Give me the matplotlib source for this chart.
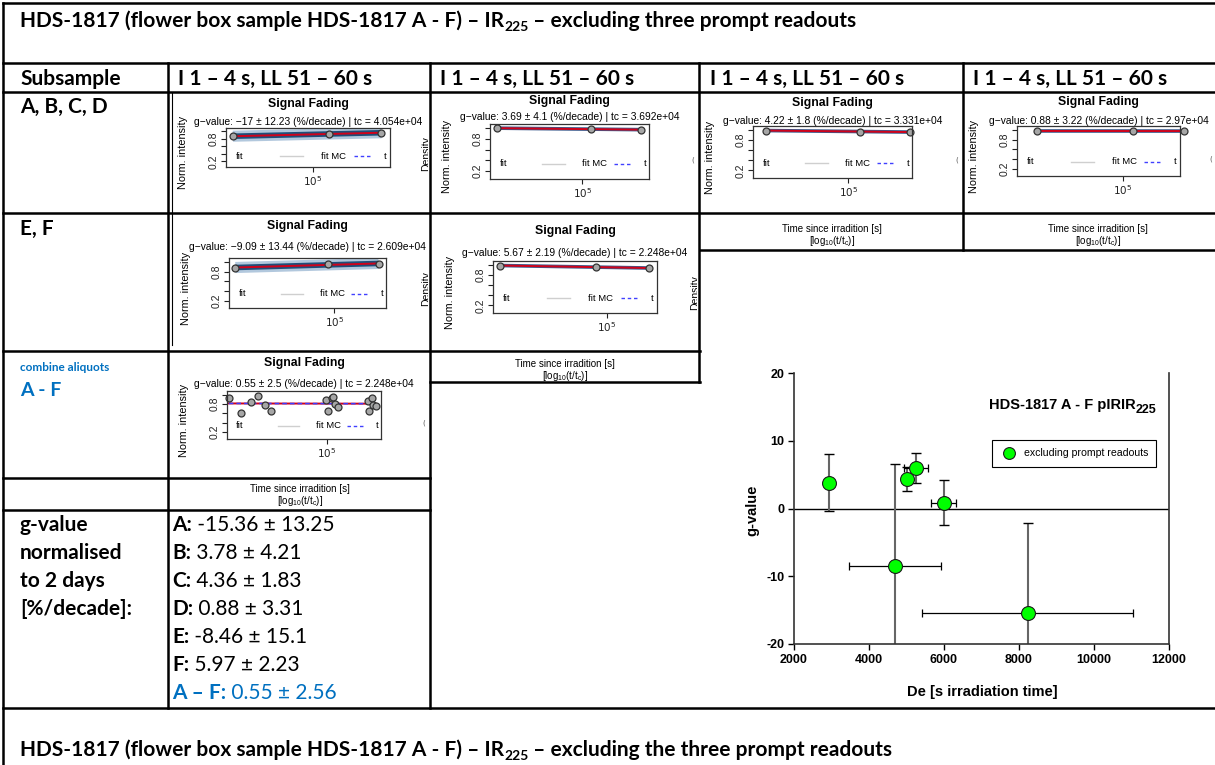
import matplotlib
matplotlib.use("Agg")
import matplotlib.pyplot as plt
from matplotlib.lines import Line2D
from matplotlib import font_manager
import numpy as np

W, H, DPI = 1215, 765, 100
plt.rcParams["mathtext.fontset"] = "custom"
plt.rcParams["mathtext.rm"] = "Liberation Sans"
plt.rcParams["mathtext.bf"] = "Liberation Sans:bold"
plt.rcParams["mathtext.it"] = "Liberation Sans:italic"
plt.rcParams["axes.unicode_minus"] = False

WORD = "Lato"              # stands in for Calibri in the Word table
RFONT = "Liberation Sans"  # R / Excel plots
installed = {f.name for f in font_manager.fontManager.ttflist}
XFONT = "Liberation Sans Narrow" if "Liberation Sans Narrow" in installed else RFONT
BLUE = "#0070C0"

# g-values normalised to 2 days [%/decade]
aliquots = ["A", "B", "C", "D", "E", "F"]
g_value = [-15.36, 3.78, 4.36, 0.88, -8.46, 5.97]
g_error = [13.25, 4.21, 1.83, 3.31, 15.1, 2.23]
g_all = "0.55 ± 2.56"
# De [s irradiation time]
de_value = [8230, 2940, 5000, 5990, 4690, 5250]
de_error = [2820, 0, 130, 340, 1225, 330]

# fading fits printed by R for A..F and the combined A-F set
fit_g = ["−17 ± 12.23", "3.69 ± 4.1", "4.22 ± 1.8", "0.88 ± 3.22",
         "−9.09 ± 13.44", "5.67 ± 2.19", "0.55 ± 2.5"]
fit_tc = ["4.054e+04", "3.692e+04", "3.331e+04", "2.97e+04",
          "2.609e+04", "2.248e+04", "2.248e+04"]
# log10 time since irradiation / normalised intensity of the plotted points
fade_t = [
    [4.17, 5.17, 5.71],
    [4.09, 5.09, 5.63],
    [4.12, 5.12, 5.66],
    [4.10, 5.10, 5.64],
    [3.93, 4.93, 5.48],
    [3.89, 4.89, 5.44],
    [3.92, 4.06, 4.17, 4.24, 4.32, 4.39, 4.99, 5.02, 5.06, 5.07, 5.09,
     5.12, 5.46, 5.47, 5.50, 5.51, 5.54],
]
fade_i = [
    [0.86, 0.93, 0.95],
    [1.00, 0.99, 0.97],
    [0.99, 0.97, 0.96],
    [0.98, 0.97, 0.98],
    [0.88, 0.95, 0.96],
    [0.99, 0.96, 0.94],
    [0.93, 0.60, 0.85, 0.98, 0.79, 0.66, 0.89, 0.66, 0.93, 0.96, 0.80,
     0.73, 0.86, 0.66, 0.94, 0.78, 0.75],
]

col_head = "I 1 – 4 s, LL 51 – 60 s"
title_a = "HDS-1817 (flower box sample HDS-1817 A - F) – IR"
title_b = " – excluding three prompt readouts"
footer_b = " – excluding the three prompt readouts"

fig = plt.figure(figsize=(W / DPI, H / DPI), dpi=DPI)
renderer = fig.canvas.get_renderer()


def fx(x):
    return x / W


def fy(y):
    return 1 - y / H


def text_width(s, **kw):
    a = fig.text(0, 0, "|" + s + "|", **kw)
    b = fig.text(0, 0, "||", **kw)
    w = a.get_window_extent(renderer).width - b.get_window_extent(renderer).width
    a.remove()
    b.remove()
    return w


def runs(x, y, parts, ha="left"):
    # parts: (text, props, dy) drawn one after another on one baseline
    widths = [text_width(s, **kw) for s, kw, dy in parts]
    if ha == "center":
        x -= sum(widths) / 2
    elif ha == "right":
        x -= sum(widths)
    for (s, kw, dy), w in zip(parts, widths):
        fig.text(fx(x), fy(y + dy), s, ha="left", va="baseline", **kw)
        x += w


def hline(y, x0, x1, lw=1.8):
    fig.add_artist(Line2D([fx(x0), fx(x1)], [fy(y), fy(y)], lw=lw, color="black"))


def vline(x, y0, y1, lw=1.8):
    fig.add_artist(Line2D([fx(x), fx(x)], [fy(y0), fy(y1)], lw=lw, color="black"))


B15 = dict(family=WORD, fontsize=15, fontweight="bold")
R15 = dict(family=WORD, fontsize=15)

# ---- table grid ----
hline(3, 3, W)
vline(3, 3, H)
hline(63, 3, W)
hline(92, 3, W)
hline(213, 3, W)
hline(250, 700, W)
hline(351, 3, 700)
hline(382, 430, 700)
hline(478, 3, 430)
hline(510, 3, 430)
hline(708, 3, W)
vline(168, 63, 708)
vline(430, 63, 708)
vline(699, 63, 382)
vline(963, 63, 250)
vline(172, 93, 345, lw=0.8)

# ---- table text ----
runs(20, 27, [(title_a, B15, 0), ("225", dict(B15, fontsize=10), 4), (title_b, B15, 0)])
runs(20, 85, [("Subsample", B15, 0)])
for x in [178, 440, 710, 973]:
    runs(x, 85, [(col_head, B15, 0)])
runs(20, 113, [("A, B, C, D", B15, 0)])
runs(20, 235, [("E, F", B15, 0)])
runs(20, 371, [("combine aliquots", dict(B15, fontsize=8.5, color=BLUE), 0)])
runs(20, 396, [("A - F", dict(B15, fontsize=14, color=BLUE), 0)])
for i, s in enumerate(["g-value", "normalised", "to 2 days", "[%/decade]:"]):
    runs(20, 531 + 28 * i, [(s, B15, 0)])
for i, name in enumerate(aliquots):
    runs(172, 531 + 28 * i, [(name + ":", B15, 0),
                             (f" {g_value[i]} ± {g_error[i]}", R15, 0)])
runs(172, 531 + 28 * 6, [("A – F:", dict(B15, color=BLUE), 0),
                         (" " + g_all, dict(R15, color=BLUE), 0)])
runs(20, 756, [(title_a, B15, 0), ("225", dict(B15, fontsize=10), 4), (footer_b, B15, 0)])

# x-axis title of the R plots, sitting in its own cells
for x, y in [(300, 489), (565, 364), (832, 229), (1098, 229)]:
    fig.text(fx(x), fy(y), "Time since irradition [s]", ha="center", va="center",
             family=RFONT, fontsize=7)
    fig.text(fx(x), fy(y + 12), r"[log$\mathregular{_{10}}$(t/t$\mathregular{_c}$)]",
             ha="center", va="center", family=RFONT, fontsize=7)

# ---- "Signal Fading" panels ----
panel_box = [(226, 128, 390, 167), (490, 124, 649, 179), (753, 126, 912, 178),
             (1017, 126, 1180, 176), (229, 258, 386, 308), (493, 261, 657, 313),
             (227, 391, 381, 439)]
panel_cell = [(172, 93, 428, 211), (432, 93, 697, 211), (702, 93, 961, 211),
              (966, 93, W, 211), (172, 215, 428, 350), (432, 215, 697, 350),
              (172, 353, 428, 477)]
panel_title_y = [104, 101, 103, 102, 226, 231, 363]
panel_sub_y = [122, 117, 121, 121, 247, 253, 384]
panel_tick = [0.53, 0.58, 0.60, 0.65, 0.67, 0.695, 0.647]
panel_heavy = [True, False, False, False, True, False, False]
panel_stub = ["Densitv", "(", "(", "(", "Densitv", "Densitv", "("]


def fading_panel(k):
    l, t, r, b = panel_box[k]
    ax = fig.add_axes([fx(l), fy(b), (r - l) / W, (b - t) / H])
    x = np.array(fade_t[k])
    y = np.array(fade_i[k])
    p = np.polyfit(x, y, 1)
    xf = np.array([x.min(), x.max()])
    yf = np.polyval(p, xf)
    if panel_heavy[k]:
        ax.plot(xf, yf, color="#aac2da", lw=8, alpha=0.9, solid_capstyle="butt")
        ax.plot(xf, yf, color="#1f4e79", lw=4, solid_capstyle="butt")
    elif k < 6:
        ax.plot(xf, yf, color="#3a5a8c", lw=2.6, solid_capstyle="butt")
    ax.plot(xf, yf, color="#d0021b", lw=1.4)
    if k == 6:
        ax.plot(xf, yf, color="#3b3bff", lw=1.1, ls=(0, (3, 2)))
    ax.plot(x, y, "o", ms=5, mfc="#a6a6a6", mec="#333333", mew=0.9, clip_on=False)

    ly = 0.28
    leg_kw = dict(transform=ax.transAxes, fontsize=6.8, va="center", family=RFONT)
    ax.text(0.06, ly, "fit", **leg_kw)
    ax.plot([0.33, 0.47], [ly, ly], transform=ax.transAxes, color="#cfcfcf", lw=1)
    ax.text(0.58, ly, "fit MC", **leg_kw)
    ax.plot([0.78, 0.89], [ly, ly], transform=ax.transAxes, color="#4040ff", lw=1, ls=(0, (2.5, 2)))
    ax.text(0.965, ly, "t", clip_on=True, **leg_kw)

    x0 = 5 - 1.7 * panel_tick[k]
    ax.set_xlim(x0, x0 + 1.7)
    ax.set_ylim(0.05, 1.08)
    ax.set_yticks([0.2, 0.4, 0.6, 0.8, 1.0])
    ax.set_yticklabels(["0.2", "", "", "0.8", ""], rotation=90, va="center",
                       family=RFONT, fontsize=7.5)
    ax.set_xticks([5.0])
    ax.set_xticklabels([r"$\mathregular{10^5}$"], fontsize=7.5)
    ax.tick_params(length=3.5, width=0.8, pad=2, colors="#222222")
    for s in ax.spines.values():
        s.set_linewidth(0.9)
        s.set_color("#333333")

    fig.text(fx((l + r) / 2), fy(panel_title_y[k]), "Signal Fading", ha="center", va="center",
             family=RFONT, fontsize=8.8, fontweight="bold")
    fig.text(fx((l + r) / 2), fy(panel_sub_y[k]),
             f"g−value: {fit_g[k]} (%/decade) | tc = {fit_tc[k]}",
             ha="center", va="center", family=RFONT, fontsize=7.4)
    fig.text(fx(l - 43), fy((t + b) / 2 + 5), "Norm. intensity", rotation=90,
             ha="center", va="center", family=RFONT, fontsize=7.8)

    # edge of the neighbouring R panel, cut off by the cell
    cl, ct, cr, cb = panel_cell[k]
    frame = fig.add_axes([fx(cl), fy(cb), (cr - cl) / W, (cb - ct) / H])
    frame.axis("off")
    frame.set_xlim(cl, cr)
    frame.set_ylim(cb, ct)
    if panel_stub[k] == "(":
        frame.text(cr - 4, (t + b) / 2 + 8, "(", fontsize=5, color="#555555",
                   ha="center", va="center", clip_on=True)
    else:
        frame.text(cr - 2, (t + b) / 2 + 6, panel_stub[k], rotation=90, fontsize=7.5,
                   family=RFONT, ha="center", va="center", clip_on=True)


for k in range(7):
    fading_panel(k)

# ---- g-value vs De scatter ----
ax = fig.add_axes([fx(794), fy(644), 375 / W, 271 / H])
ax.axhline(0, color="black", lw=1, zorder=1)
ax.errorbar(de_value, g_value, yerr=g_error, fmt="none", ecolor="#666666",
            elinewidth=1.5, capsize=0, zorder=2)
lo = np.array(g_value) - np.array(g_error)
hi = np.array(g_value) + np.array(g_error)
ax.plot(de_value, lo, "_", color="black", ms=7, mew=1, zorder=2)
ax.plot(de_value, hi, "_", color="black", ms=7, mew=1, zorder=2)
ax.errorbar(de_value, g_value, xerr=de_error, fmt="none", ecolor="black",
            elinewidth=0.9, capsize=3, capthick=0.9, zorder=2)
ax.plot(de_value, g_value, "o", ms=10, mfc="#00ff00", mec="#1a1a1a", mew=0.8,
        zorder=3, label="excluding prompt readouts")
ax.set_xlim(2000, 12000)
ax.set_ylim(-20, 20)
ax.set_xticks(range(2000, 12001, 2000))
ax.set_yticks(range(-20, 21, 10))
ax.spines["top"].set_visible(False)
for s in ["left", "right", "bottom"]:
    ax.spines[s].set_linewidth(1.2)
    ax.spines[s].set_color("#333333")
ax.tick_params(direction="out", length=4, width=1, labelsize=9, pad=3)
for lab in ax.get_xticklabels() + ax.get_yticklabels():
    lab.set_fontweight("bold")
    lab.set_family(XFONT)
leg = ax.legend(loc="upper left", bbox_to_anchor=((992 - 794) / 375, (644 - 440) / 271),
                borderaxespad=0, fancybox=False, edgecolor="black", framealpha=1,
                prop=dict(family=RFONT, size=7.6), borderpad=0.8, handletextpad=0.6,
                handlelength=1.6, markerscale=0.85)
leg.get_frame().set_linewidth(0.8)
runs(1156, 409, [("HDS-1817 A - F pIRIR", dict(family=XFONT, fontsize=10.5, fontweight="bold"), 0),
                 ("225", dict(family=XFONT, fontsize=9, fontweight="bold"), 4)], ha="right")
fig.text(fx(752), fy(510), "g-value", rotation=90, ha="center", va="center",
         family=XFONT, fontsize=10.5, fontweight="bold")
fig.text(fx(982), fy(692), "De [s irradiation time]", ha="center", va="center",
         family=XFONT, fontsize=10.5, fontweight="bold")

fig.savefig("out.png", dpi=DPI)
